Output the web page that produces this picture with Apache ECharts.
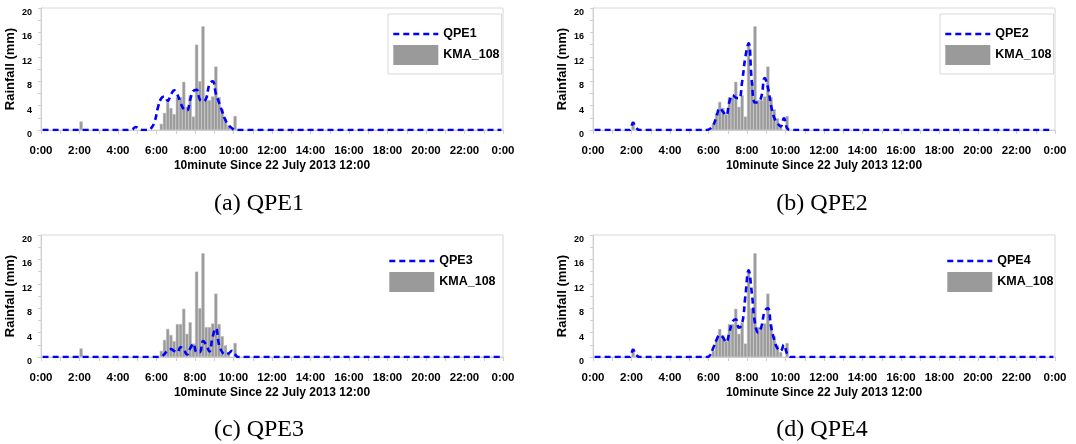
<!DOCTYPE html>
<html><head><meta charset="utf-8">
<script src="https://cdn.jsdelivr.net/npm/echarts@6/dist/echarts.min.js"></script>
<style>html,body{margin:0;padding:0;background:#fff}#c{width:1076px;height:444px}</style>
</head><body><div id="c"></div>
<script>
// tick labels every 2 hours (10-minute bins: 12 bins = 2 h)
const tickLabels = ['0:00','2:00','4:00','6:00','8:00','10:00','12:00','14:00','16:00','18:00','20:00','22:00','0:00'];
const panelNames = ['QPE1','QPE2','QPE3','QPE4'];
const captions = ['(a) QPE1','(b) QPE2','(c) QPE3','(d) QPE4'];
const gaugeName = 'KMA_108';

// 144 ten-minute bins, one row per hour
const kma = [
 0,0,0,0,0,0,
 0,0,0,0,0,0,
 1.4,0,0,0,0,0,
 0,0,0,0,0,0,
 0,0,0,0,0,0,
 0,0,0,0,0,0,
 0,1.0,2.8,4.6,3.6,2.6,
 5.4,5.4,7.9,3.8,5.7,2.2,
 14.0,8.0,17.0,4.9,4.9,5.5,
 10.4,5.4,3.4,1.9,0.8,0,
 2.3,0,0,0,0,0,
 0,0,0,0,0,0, 0,0,0,0,0,0, 0,0,0,0,0,0, 0,0,0,0,0,0, 0,0,0,0,0,0,
 0,0,0,0,0,0, 0,0,0,0,0,0, 0,0,0,0,0,0, 0,0,0,0,0,0, 0,0,0,0,0,0,
 0,0,0,0,0,0, 0,0,0,0,0,0, 0,0,0,0,0,0
];
const qpe1 = [
 0,0,0,0,0,0,
 0,0,0,0,0,0,
 0,0,0,0,0,0,
 0,0,0,0,0,0,
 0,0,0,0,0.1,0.5,
 0.2,0,0,0,0.4,1.5,
 3.8,5.2,5.5,4.8,5.8,6.5,
 5.8,4.5,3.4,3.2,5.0,6.4,
 6.6,5.0,4.7,5.2,7.5,8.0,
 6.0,4.5,3.0,1.6,0.8,0.3,
 0,0,0,0,0,0,
 0,0,0,0,0,0, 0,0,0,0,0,0, 0,0,0,0,0,0, 0,0,0,0,0,0, 0,0,0,0,0,0,
 0,0,0,0,0,0, 0,0,0,0,0,0, 0,0,0,0,0,0, 0,0,0,0,0,0, 0,0,0,0,0,0,
 0,0,0,0,0,0, 0,0,0,0,0,0, 0,0,0,0,0,0
];
const qpe2 = [
 0,0,0,0,0,0,
 0,0,0,0,0,0,
 1.2,0.3,0,0,0,0,
 0,0,0,0,0,0,
 0,0,0,0,0,0,
 0,0,0,0,0,0,
 0.2,0.8,2.2,3.6,3.0,2.4,
 4.6,5.7,5.3,5.2,8.0,12.0,
 14.2,8.0,4.5,4.6,5.5,8.5,
 7.0,4.0,2.0,1.1,0.6,1.9,
 0.3,0,0,0,0,0,
 0,0,0,0,0,0, 0,0,0,0,0,0, 0,0,0,0,0,0, 0,0,0,0,0,0, 0,0,0,0,0,0,
 0,0,0,0,0,0, 0,0,0,0,0,0, 0,0,0,0,0,0, 0,0,0,0,0,0, 0,0,0,0,0,0,
 0,0,0,0,0,0, 0,0,0,0,0,0, 0,0,0,0,0,0
];
const qpe3 = [
 0,0,0,0,0,0,
 0,0,0,0,0,0,
 0,0,0,0,0,0,
 0,0,0,0,0,0,
 0,0,0,0,0,0,
 0,0,0,0,0,0,
 0,0.1,0.5,1.1,1.3,1.0,
 0.8,1.6,1.2,0.4,1.4,2.2,
 0.8,0.8,2.6,2.0,0.9,3.3,
 4.7,2.0,0.8,0.4,0.6,1.0,
 0.4,0,0,0,0,0,
 0,0,0,0,0,0, 0,0,0,0,0,0, 0,0,0,0,0,0, 0,0,0,0,0,0, 0,0,0,0,0,0,
 0,0,0,0,0,0, 0,0,0,0,0,0, 0,0,0,0,0,0, 0,0,0,0,0,0, 0,0,0,0,0,0,
 0,0,0,0,0,0, 0,0,0,0,0,0, 0,0,0,0,0,0
];
const qpe4 = [
 0,0,0,0,0,0,
 0,0,0,0,0,0,
 1.2,0.3,0,0,0,0,
 0,0,0,0,0,0,
 0,0,0,0,0,0,
 0,0,0,0,0,0,
 0.3,1.5,2.8,3.6,3.2,2.4,
 4.0,5.8,6.2,4.8,5.5,10.0,
 14.2,10.5,5.5,4.0,5.0,7.5,
 8.0,5.0,2.8,1.4,1.0,2.0,
 0.5,0,0,0,0,0,
 0,0,0,0,0,0, 0,0,0,0,0,0, 0,0,0,0,0,0, 0,0,0,0,0,0, 0,0,0,0,0,0,
 0,0,0,0,0,0, 0,0,0,0,0,0, 0,0,0,0,0,0, 0,0,0,0,0,0, 0,0,0,0,0,0,
 0,0,0,0,0,0, 0,0,0,0,0,0, 0,0,0,0,0,0
];
const qpeSeries = [qpe1, qpe2, qpe3, qpe4];

const FONT = '"Liberation Sans",Arial,sans-serif';
const gridPos = [
  {left: 41, top: 8}, {left: 593, top: 8},
  {left: 41, top: 235}, {left: 593, top: 235}
];
const legendPos = [
  {left: 388, top: 14, border: 1}, {left: 940, top: 14, border: 1},
  {left: 384, top: 241, border: 0}, {left: 942, top: 241, border: 0}
];
const captionPos = [[259, 204], [822, 204], [259, 430], [822, 430]];

const grids = [], xAxes = [], yAxes = [], series = [], legends = [], graphics = [];
for (let g = 0; g < 4; g++) {
  grids.push({left: gridPos[g].left, top: gridPos[g].top, width: 462, height: 122,
    show: true, borderColor: '#d8d8d8', borderWidth: 1, backgroundColor: 'transparent'});
  xAxes.push({
    type: 'value', gridIndex: g, min: 0, max: 144, interval: 6,
    name: '10minute Since 22 July 2013 12:00', nameLocation: 'middle', nameGap: 30,
    nameTextStyle: {fontFamily: FONT, fontWeight: 'bold', fontSize: 12, color: '#000'},
    axisLine: {show: true, lineStyle: {color: '#cfcfcf', width: 1}},
    axisTick: {show: true, length: 4, lineStyle: {color: '#cfcfcf'}},
    splitLine: {show: false},
    axisLabel: {
      margin: 15, fontFamily: FONT, fontWeight: 'bold', fontSize: 11.5, color: '#000',
      formatter: v => (v % 12 === 0 ? tickLabels[v / 12] : '')
    }
  });
  yAxes.push({
    type: 'value', gridIndex: g, min: 0, max: 20, interval: 2,
    name: 'Rainfall (mm)', nameLocation: 'middle', nameGap: 24,
    nameTextStyle: {fontFamily: FONT, fontWeight: 'bold', fontSize: 13, color: '#000'},
    axisLine: {show: true, lineStyle: {color: '#cfcfcf', width: 1}},
    axisTick: {show: true, length: 3, lineStyle: {color: '#cfcfcf'}},
    splitLine: {show: false},
    axisLabel: {
      margin: 9, fontFamily: FONT, fontWeight: 'bold', fontSize: 9, color: '#000',
      verticalAlign: 'top',
      formatter: v => (v % 4 === 0 ? String(v) : '')
    }
  });
  series.push({
    type: 'bar', name: gaugeName, xAxisIndex: g, yAxisIndex: g,
    barWidth: 3.2, z: 2,
    itemStyle: {color: '#9a9a9a', borderColor: '#bdbdbd', borderWidth: 0.5},
    data: kma.map((v, i) => [i + 0.5, v > 0 ? v : '-'])
  });
  series.push({
    type: 'line', name: panelNames[g], xAxisIndex: g, yAxisIndex: g,
    smooth: 0.45, symbol: 'none', z: 3,
    lineStyle: {color: '#0000ff', width: 2.6, type: [6, 4]},
    itemStyle: {color: '#0000ff'},
    data: qpeSeries[g].map((v, i) => [i + 0.5, v])
  });
  legends.push({
    left: legendPos[g].left, top: legendPos[g].top, orient: 'vertical',
    padding: [12, 2, 9, 4], itemGap: 3, itemWidth: 45, itemHeight: 20,
    borderColor: '#d8d8d8', borderWidth: legendPos[g].border,
    textStyle: {fontFamily: FONT, fontWeight: 'bold', fontSize: 12.5, color: '#000'},
    lineStyle: {width: 2.6, type: [6, 4]},
    selectedMode: false,
    data: [
      {name: panelNames[g], itemStyle: {color: 'rgba(0,0,0,0)', borderColor: 'rgba(0,0,0,0)', borderWidth: 0}},
      {name: gaugeName, icon: 'rect', itemStyle: {borderWidth: 0}}
    ]
  });
  graphics.push({
    type: 'text', x: captionPos[g][0], y: captionPos[g][1],
    style: {text: captions[g], fill: '#000', font: '24px "Liberation Serif","Times New Roman",serif',
      textAlign: 'center', textVerticalAlign: 'middle'}
  });
}

const chart = echarts.init(document.getElementById('c'), null, {renderer: 'canvas'});
chart.setOption({
  animation: false,
  backgroundColor: '#fff',
  grid: grids, xAxis: xAxes, yAxis: yAxes, series: series, legend: legends,
  graphic: graphics
});
</script></body></html>
